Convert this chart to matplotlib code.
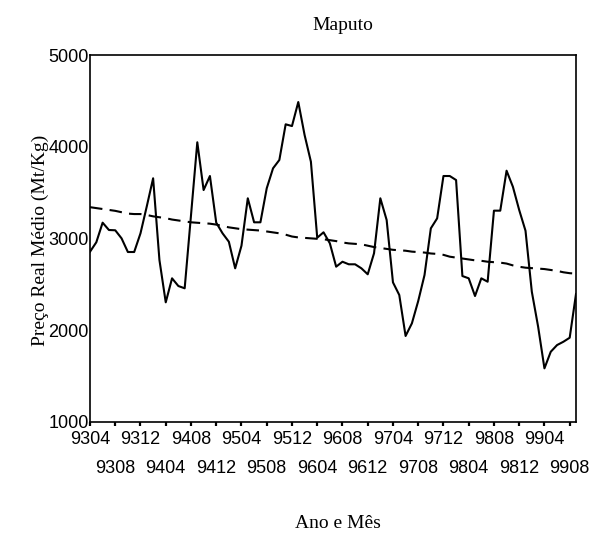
import matplotlib
matplotlib.use('Agg')
from matplotlib import pyplot as plt
import numpy as np

# monthly real mean price, Maputo, 9304 .. 9909
price = [2854, 2957, 3171, 3091, 3088, 3000, 2851, 2851, 3055, 3350,
         3655, 2764, 2302, 2564, 2480, 2455, 3250, 4048, 3527, 3680,
         3171, 3055, 2963, 2673, 2920, 3437, 3175, 3175, 3546, 3764,
         3855, 4244, 4225, 4487, 4127, 3836, 3007, 3066, 2946, 2691,
         2745, 2717, 2717, 2673, 2608, 2837, 3437, 3200, 2520, 2382,
         1935, 2073, 2316, 2600, 3109, 3218, 3680, 3680, 3636, 2589,
         2564, 2371, 2564, 2527, 3302, 3302, 3738, 3563, 3309, 3083,
         2418, 2036, 1582, 1763, 1836, 1872, 1916, 2393]

trend = [3340, 3330, 3320, 3310, 3300, 3285, 3270, 3265, 3265, 3255,
         3240, 3230, 3220, 3205, 3195, 3185, 3175, 3170, 3165, 3160,
         3150, 3135, 3120, 3110, 3100, 3095, 3090, 3085, 3075, 3065,
         3055, 3040, 3020, 3010, 3005, 3000, 2995, 2990, 2980, 2970,
         2955, 2945, 2940, 2935, 2920, 2905, 2895, 2885, 2875, 2870,
         2865, 2855, 2850, 2845, 2835, 2830, 2820, 2800, 2790, 2780,
         2770, 2760, 2755, 2745, 2740, 2735, 2725, 2705, 2690, 2680,
         2675, 2670, 2665, 2655, 2645, 2630, 2620, 2615]

tick_labels = ['9304', '9308', '9312', '9404', '9408', '9412', '9504', '9508',
               '9512', '9604', '9608', '9612', '9704', '9708', '9712', '9804',
               '9808', '9812', '9904', '9908']

y_ticks = [1000, 2000, 3000, 4000, 5000]

serif = 'Liberation Serif'
sans = 'Liberation Sans'

fig = plt.figure(figsize=(5.96, 5.33), dpi=100)
ax = fig.add_axes([90/596, 1-421.7/533, (576-90)/596, (421.7-55)/533])

months = np.arange(len(price))
ax.plot(months, price, color='black', linewidth=1.5)
ax.plot(months, trend, color='black', linewidth=1.5, dashes=(6, 3.5))

ax.set_xlim(0, len(price) - 1)
ax.set_ylim(1000, 5000)

ax.set_yticks(y_ticks)
ax.set_yticklabels([str(v) for v in y_ticks], fontname=sans, fontsize=13)
ax.tick_params(axis='y', which='both', length=0, pad=1)

# two staggered rows of labels: upper row on major ticks, lower on minor
tick_pos = np.arange(0, 4 * len(tick_labels), 4)
ax.set_xticks(tick_pos[0::2])
ax.set_xticklabels(tick_labels[0::2], fontname=sans, fontsize=13)
ax.set_xticks(tick_pos[1::2], minor=True)
ax.set_xticklabels(tick_labels[1::2], minor=True, fontname=sans, fontsize=13)
ax.tick_params(axis='x', which='major', length=3, width=1.6, direction='out', pad=3.5)
ax.tick_params(axis='x', which='minor', length=3, width=1.6, direction='out', pad=24.5)

for sp in ax.spines.values():
    sp.set_linewidth(1.2)

fig.text(0.575, 1-25/533, 'Maputo', fontname=serif, fontsize=14,
         ha='center', va='center')
fig.text(0.567, 1-523/533, 'Ano e Mês', fontname=serif, fontsize=14,
         ha='center', va='center')
fig.text(40/596, 1-240/533, 'Preço Real Médio (Mt/Kg)', fontname=serif,
         fontsize=14, rotation=90, ha='center', va='center')

fig.savefig('out.png', dpi=100)
